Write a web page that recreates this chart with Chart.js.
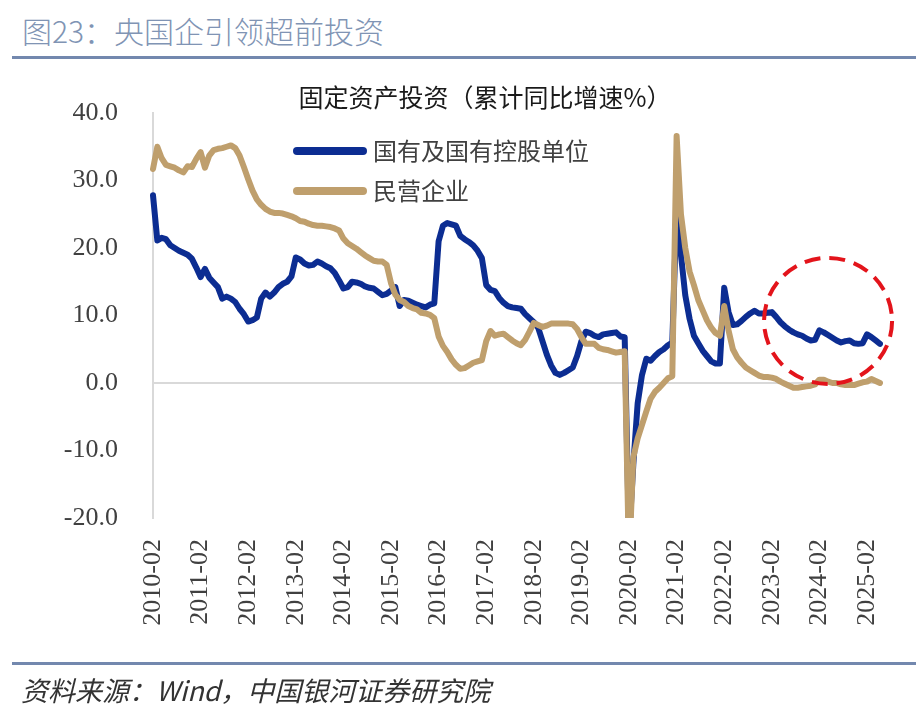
<!DOCTYPE html>
<html>
<head>
<meta charset="utf-8">
<script src="https://cdn.jsdelivr.net/npm/chart.js@4.4.1/dist/chart.umd.min.js"></script>
<style>
  html, body { margin: 0; padding: 0; background: #fff; }
  #wrap { position: relative; width: 916px; height: 726px; overflow: hidden; }
  #chart { position: absolute; left: 0; top: 0; }
  .head { position: absolute; left: 22px; top: 10px; font: 300 30px "Noto Sans CJK SC"; color: #8094b4; line-height: 40px; white-space: nowrap; }
  .rule { position: absolute; left: 12px; width: 904px; height: 3px; background: #7388ae; }
  .src { position: absolute; left: 21px; top: 672px; font: italic 27px "Noto Sans CJK SC"; color: #333; line-height: 36px; white-space: nowrap; }
</style>
</head>
<body>
<div id="wrap">
  <div class="head">图23：央国企引领超前投资</div>
  <div class="rule" style="top:56px"></div>
  <canvas id="chart" width="916" height="726"></canvas>
  <div class="rule" style="top:662px"></div>
  <div class="src">资料来源：Wind，中国银河证券研究院</div>
</div>
<script>
// cumulative YoY, Feb..Dec each year (no January release)
const years = [2010, 2011, 2012, 2013, 2014, 2015, 2016, 2017, 2018, 2019, 2020, 2021, 2022, 2023, 2024, 2025];
const months = ['02', '03', '04', '05', '06', '07', '08', '09', '10', '11', '12'];
const lastMonth = '05'; // data runs to 2025-05

const seriesNames = ['国有及国有控股单位', '民营企业'];
const chartTitle = '固定资产投资（累计同比增速%）';

const soe = [
  27.8, 21.1, 21.5, 21.3, 20.4, 20.0, 19.6, 19.3, 19.0, 18.4, 17.1, // 2010
  15.7, 16.9, 15.6, 14.9, 14.2, 12.5, 12.8, 12.5, 12.0, 11.0, 10.2, // 2011
  9.1, 9.3, 9.7, 12.5, 13.4, 12.8, 13.4, 14.2, 14.7, 15.0, 15.8,    // 2012
  18.6, 18.3, 17.7, 17.4, 17.5, 18.0, 17.7, 17.3, 17.0, 16.3, 15.2, // 2013
  14.0, 14.2, 15.0, 14.9, 14.7, 14.3, 14.1, 14.0, 13.5, 13.0, 13.2, // 2014
  13.7, 14.2, 11.4, 12.3, 12.2, 11.9, 11.6, 11.4, 11.2, 11.6, 11.8, // 2015
  21.0, 23.3, 23.7, 23.5, 23.3, 21.8, 21.3, 20.9, 20.4, 19.6, 18.5, // 2016
  14.5, 13.8, 13.6, 12.6, 11.9, 11.4, 11.2, 11.1, 11.0, 10.2, 9.6,  // 2017
  9.0, 8.2, 6.2, 4.2, 2.6, 1.5, 1.2, 1.5, 1.9, 2.3, 4.0,            // 2018
  6.2, 7.6, 7.4, 7.0, 6.8, 7.2, 7.3, 7.4, 7.5, 6.9, 6.8,            // 2019
  -23.0, -12.0, -3.0, 1.2, 3.6, 3.3, 4.0, 4.6, 5.0, 5.6, 6.0,       // 2020
  26.0, 19.0, 13.0, 9.5, 7.0, 5.9, 4.8, 4.0, 3.2, 2.9, 2.9,         // 2021
  14.1, 10.5, 8.6, 8.7, 9.2, 9.8, 10.3, 10.7, 10.3, 10.3, 10.4,     // 2022
  10.5, 9.8, 9.0, 8.4, 7.9, 7.5, 7.2, 7.0, 6.6, 6.3, 6.4,           // 2023
  7.8, 7.5, 7.1, 6.7, 6.3, 6.0, 6.2, 6.3, 5.9, 5.8, 5.9,            // 2024
  7.2, 6.8, 6.3, 5.8                                                // 2025
];

const pvt = [
  31.7, 35.0, 33.3, 32.3, 32.1, 31.9, 31.5, 31.2, 32.1, 32.0, 33.2, // 2010
  34.2, 31.9, 33.7, 34.5, 34.7, 34.8, 35.0, 35.2, 34.8, 33.7, 32.0, // 2011
  30.2, 28.5, 27.2, 26.4, 25.8, 25.4, 25.2, 25.2, 25.1, 24.9, 24.7, // 2012
  24.4, 24.0, 23.9, 23.6, 23.4, 23.3, 23.3, 23.2, 23.1, 22.9, 22.6, // 2013
  21.4, 20.7, 20.3, 19.9, 19.4, 18.9, 18.5, 18.1, 18.0, 18.0, 17.5, // 2014
  14.8, 13.1, 12.3, 12.0, 11.4, 11.1, 10.9, 10.4, 10.3, 10.1, 9.6,  // 2015
  6.9, 5.5, 4.6, 3.5, 2.7, 2.1, 2.2, 2.6, 3.0, 3.2, 3.4,            // 2016
  6.2, 7.7, 7.0, 7.2, 7.3, 6.8, 6.3, 5.9, 5.6, 6.4, 7.6,            // 2017
  8.9, 8.6, 8.3, 8.5, 8.8, 8.8, 8.8, 8.8, 8.8, 8.7, 8.0,            // 2018
  6.8, 5.8, 5.8, 5.8, 5.2, 5.0, 4.9, 4.7, 4.5, 4.6, 4.7,            // 2019
  -26.4, -11.0, -8.2, -6.2, -4.2, -2.3, -1.3, -0.7, 0.0, 0.7, 1.0,  // 2020
  36.6, 25.0, 20.0, 16.5, 14.5, 12.3, 10.8, 9.3, 8.2, 7.4, 7.0,     // 2021
  11.4, 7.8, 5.0, 3.8, 3.0, 2.3, 1.9, 1.5, 1.1, 0.9, 0.9,           // 2022
  0.8, 0.6, 0.2, -0.1, -0.4, -0.7, -0.7, -0.6, -0.5, -0.4, -0.2,    // 2023
  0.5, 0.5, 0.2, 0.0, 0.0, -0.2, -0.3, -0.3, -0.3, -0.1, 0.1,       // 2024
  0.2, 0.6, 0.3, 0.0                                                // 2025
];

const labels = [];
years.forEach(y => months.forEach(m => {
  if (y < 2025 || m <= lastMonth) labels.push(`${y}-${m}`);
}));

// dashed ring marking the recent stretch
const ringAt = { label: '2024-04', value: 9.2 };

const serif = '"Liberation Serif", "DejaVu Serif", serif';
const cjk = '"Noto Sans CJK SC", sans-serif';

const decor = {
  id: 'decor',
  afterDraw(chart) {
    const { ctx, chartArea: a, scales: { x, y } } = chart;
    ctx.save();

    ctx.font = `25px ${cjk}`;
    ctx.fillStyle = '#1a1a1a';
    ctx.textAlign = 'center';
    ctx.textBaseline = 'middle';
    ctx.fillText(chartTitle, 485, 97);

    chart.data.datasets.forEach((ds, i) => {
      const ly = a.top + 38 + i * 40;
      ctx.strokeStyle = ds.borderColor;
      ctx.lineWidth = 8;
      ctx.lineCap = 'round';
      ctx.beginPath();
      ctx.moveTo(a.left + 144, ly);
      ctx.lineTo(a.left + 210, ly);
      ctx.stroke();
      ctx.fillStyle = '#404040';
      ctx.font = `24px ${cjk}`;
      ctx.textAlign = 'left';
      ctx.fillText(ds.label, a.left + 220, ly);
    });

    const cx = x.getPixelForValue(labels.indexOf(ringAt.label));
    const cy = y.getPixelForValue(ringAt.value);
    ctx.setLineDash([16, 9]);
    ctx.strokeStyle = '#e3141b';
    ctx.lineWidth = 4;
    ctx.lineCap = 'butt';
    ctx.beginPath();
    ctx.ellipse(cx, cy, 64, 63, 0, 0, Math.PI * 2);
    ctx.stroke();
    ctx.restore();
  }
};

new Chart(document.getElementById('chart'), {
  type: 'line',
  data: {
    labels,
    datasets: [
      { label: seriesNames[0], data: soe, borderColor: '#0c2d92', order: 1 },
      { label: seriesNames[1], data: pvt, borderColor: '#bf9f6d', order: 0 }
    ]
  },
  options: {
    responsive: false,
    animation: false,
    layout: { padding: { top: 113, right: 36, bottom: 0, left: 0 } },
    elements: {
      line: { borderWidth: 6, tension: 0, borderJoinStyle: 'round', borderCapStyle: 'round', fill: false },
      point: { radius: 0, hoverRadius: 0 }
    },
    plugins: { legend: { display: false }, tooltip: { enabled: false } },
    scales: {
      x: {
        offset: false,
        grid: { display: false },
        border: { display: false },
        afterFit: s => { s.height = 208; s.paddingLeft = 0; s.paddingRight = 0; },
        ticks: {
          autoSkip: false,
          minRotation: 90,
          maxRotation: 90,
          padding: 13,
          color: '#404040',
          font: { family: serif, size: 26 },
          callback: (v, i) => (i % 11 === 0 ? labels[i] : '')
        }
      },
      y: {
        min: -20,
        max: 40,
        afterFit: s => { s.width = 153; },
        border: { display: true, color: '#d9d9d9', width: 2 },
        grid: {
          drawTicks: false,
          lineWidth: 2,
          color: c => (c.tick && c.tick.value === 0 ? '#d9d9d9' : 'rgba(0,0,0,0)')
        },
        ticks: {
          stepSize: 10,
          padding: 35,
          color: '#404040',
          font: { family: serif, size: 26 },
          callback: v => v.toFixed(1)
        }
      }
    }
  },
  plugins: [decor]
});
</script>
</body>
</html>
